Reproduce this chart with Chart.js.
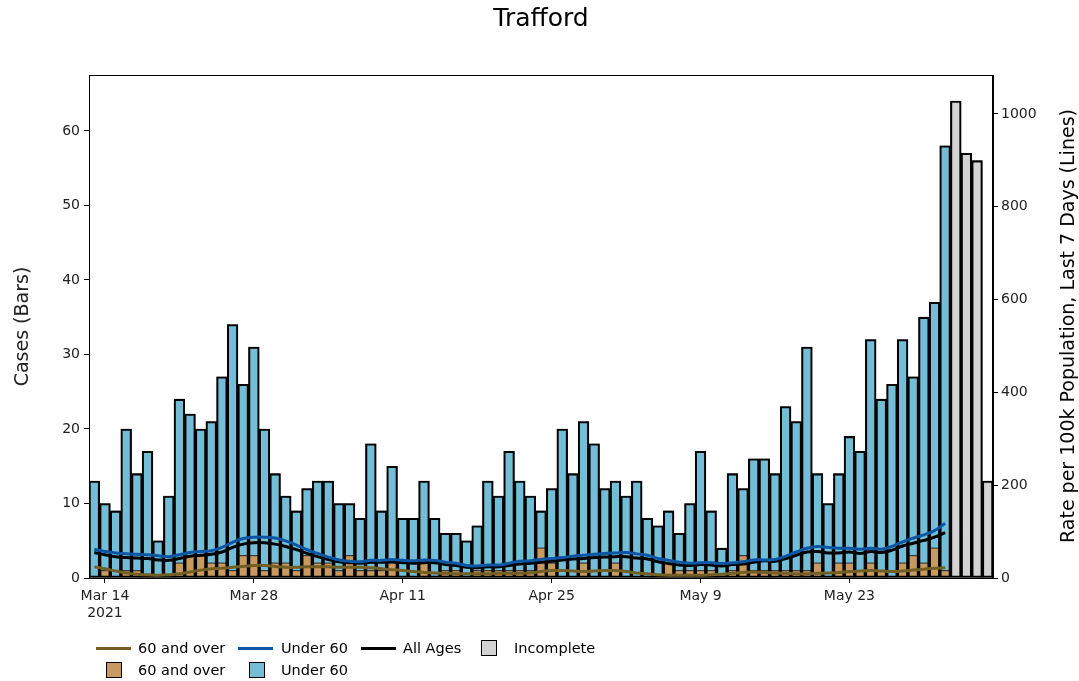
<!DOCTYPE html>
<html lang="en">
<head>
<meta charset="UTF-8">
<title>Trafford</title>
<script src="https://cdn.jsdelivr.net/npm/chart.js@4.4.1/dist/chart.umd.min.js"></script>
<style>
  body { margin: 0; background: #fff; font-family: "DejaVu Sans", sans-serif; color: #000; }
  #wrap { position: relative; width: 1079px; height: 681px; }
  #title { position: absolute; left: 0; width: 1082px; top: 3px; text-align: center; font-size: 25px; }
  #ylab2 { position: absolute; left: 1067px; top: 326px; font-size: 19px; white-space: nowrap;
           transform: translate(-50%, -50%) rotate(-90deg); }
  .lg { position: absolute; font-size: 14.5px; line-height: 18px; white-space: nowrap; }
  .ln { position: absolute; height: 3px; width: 35px; }
  .bx { position: absolute; width: 14px; height: 14px; border: 1.5px solid #000; }
</style>
</head>
<body>
<div id="wrap">
  <canvas id="chart" width="1079" height="681"></canvas>
  <div id="title">Trafford</div>
  <div id="ylab2">Rate per 100k Population, Last 7 Days (Lines)</div>

  <!-- legend, row 1 -->
  <div class="ln" style="left:96px; top:647px; background:#735f23"></div>
  <div class="lg" style="left:138px; top:639px">60 and over</div>
  <div class="ln" style="left:238px; top:647px; background:#0b56a4"></div>
  <div class="lg" style="left:281px; top:639px">Under 60</div>
  <div class="ln" style="left:361px; top:647px; background:#000"></div>
  <div class="lg" style="left:403px; top:639px">All Ages</div>
  <div class="bx" style="left:481px; top:640px; background:#d3d3d3"></div>
  <div class="lg" style="left:514px; top:639px">Incomplete</div>
  <!-- legend, row 2 -->
  <div class="bx" style="left:106px; top:662px; background:#c99a5f"></div>
  <div class="lg" style="left:138px; top:661px">60 and over</div>
  <div class="bx" style="left:249px; top:662px; background:#73bed6"></div>
  <div class="lg" style="left:281px; top:661px">Under 60</div>
</div>

<script>
  // days from 13 Mar 2021 to 5 Jun 2021
  const months = ['Jan','Feb','Mar','Apr','May','Jun'];
  const labels = [];
  for (let d = new Date(Date.UTC(2021, 2, 13)); d <= new Date(Date.UTC(2021, 5, 5)); d.setUTCDate(d.getUTCDate() + 1)) {
    labels.push(months[d.getUTCMonth()] + ' ' + d.getUTCDate());
  }
  const tickDates = ['Mar 14', 'Mar 28', 'Apr 11', 'Apr 25', 'May 9', 'May 23'];

  // daily cases (bars)
  const under60 = [13,9,9,19,13,17,5,11,22,19,17,19,25,33,23,28,19,12,9,
    8,9,11,11,9,7,7,17,8,13,8,8,11,8,5,5,5,6,12,10,16,12,10,5,10,20,14,19,18,12,
    11,11,13,8,7,7,5,9,16,8,4,13,9,15,15,13,22,20,30,12,10,12,17,16,30,23,26,30,24,33,33,
    57, null, null, null, null];
  const over60 = [0,1,0,1,1,0,0,0,2,3,3,2,2,1,3,3,1,2,2,
    1,3,2,2,1,3,1,1,1,2,0,0,2,0,1,1,0,1,1,1,1,1,1,4,2,0,0,2,0,0,
    2,0,0,0,0,2,1,1,1,1,0,1,3,1,1,1,1,1,1,2,0,2,2,1,2,1,0,2,3,2,4,
    1, null, null, null, null];
  const incomplete = Array(81).fill(null).concat([64, 57, 56, 13]);

  // rate per 100k, last 7 days (lines)
  const rateOver60 = [24,20,15,11,8,7,6,7,9,13,17,20,21,23,25,27,27,25,23,
    23,24,24,24,23,23,23,22,20,18,16,14,12,11,10,9,9,9,9,10,10,10,11,14,16,16,15,14,15,16,
    16,14,11,9,7,6,6,6,6,7,8,10,12,13,12,11,10,9,9,10,11,12,14,15,16,15,14,15,17,19,21,
    22, null, null, null, null];
  const rateUnder60 = [62,57,54,52,51,50,48,46,50,55,57,59,66,77,85,88,88,86,80,
    71,61,53,45,39,36,35,38,38,40,38,37,39,38,34,32,27,26,28,28,32,36,37,40,42,44,47,49,51,53,
    54,55,52,49,42,38,34,32,33,33,31,33,35,39,39,40,47,56,64,68,66,64,64,62,64,62,68,78,86,93,102,
    118, null, null, null, null];
  const rateAll = [55,50,46,44,43,42,39,38,42,47,49,51,56,66,73,76,76,73,68,
    61,53,46,40,35,33,32,34,34,35,33,32,33,33,29,27,23,22,24,24,27,30,32,34,36,39,41,42,44,45,
    46,46,43,41,35,31,28,27,29,28,26,29,30,34,37,36,42,49,56,57,54,54,56,53,57,55,60,69,75,81,88,
    98, null, null, null, null];

  const totals = labels.map((_, i) => (under60[i] || 0) + (over60[i] || 0) + (incomplete[i] || 0));

  const font = { family: 'DejaVu Sans', size: 14 };
  const barCommon = { yAxisID: 'y', stack: 'cases', barPercentage: 1, categoryPercentage: 1,
                      borderWidth: 1, borderColor: 'rgba(40,40,40,0.85)', borderSkipped: false, order: 3 };
  const lineCommon = { type: 'line', yAxisID: 'y2', pointRadius: 0, borderWidth: 3, tension: 0.4, fill: false, order: 0 };

  // frame around the plot area
  const frame = {
    id: 'frame',
    afterDraw(chart) {
      const a = chart.chartArea, ctx = chart.ctx;
      ctx.save();
      ctx.strokeStyle = '#000';
      ctx.lineWidth = 1;
      ctx.strokeRect(a.left + 0.5, a.top + 0.5, a.right - a.left - 1, a.bottom - a.top);
      ctx.restore();
    }
  };

  new Chart(document.getElementById('chart'), {
    type: 'bar',
    data: {
      labels: labels,
      datasets: [
        Object.assign({ label: '60 and over', data: over60, backgroundColor: '#c99a5f' }, barCommon),
        Object.assign({ label: 'Under 60', data: under60, backgroundColor: '#73bed6' }, barCommon),
        Object.assign({ label: 'Incomplete', data: incomplete, backgroundColor: '#d3d3d3' }, barCommon),
        { label: 'All ages outline', data: totals, yAxisID: 'y', stack: 'outline', grouped: false,
          barPercentage: 1, categoryPercentage: 1, backgroundColor: 'rgba(0,0,0,0)',
          borderColor: '#000', borderWidth: 1.4, borderSkipped: false, order: 2 },
        Object.assign({ label: '60 and over', data: rateOver60, borderColor: '#735f23' }, lineCommon),
        Object.assign({ label: 'Under 60', data: rateUnder60, borderColor: '#0b56a4' }, lineCommon),
        Object.assign({ label: 'All Ages', data: rateAll, borderColor: '#000' }, lineCommon)
      ]
    },
    options: {
      responsive: false,
      animation: false,
      devicePixelRatio: 1,
      layout: { padding: { top: 75, bottom: 58, left: 0, right: 0 } },
      plugins: { legend: { display: false }, title: { display: false }, tooltip: { enabled: false } },
      scales: {
        x: {
          stacked: true,
          offset: true,
          grid: { offset: false, drawOnChartArea: false, drawTicks: true, tickLength: 5, lineWidth: 1,
                  color: ctx => tickDates.includes(labels[ctx.index]) ? '#000' : 'rgba(0,0,0,0)' },
          border: { display: true, color: '#000' },
          ticks: {
            autoSkip: false, maxRotation: 0, padding: 5, color: '#222', font: font,
            callback: (v, i) => {
              const l = labels[i];
              if (!tickDates.includes(l)) return '';
              return l === 'Mar 14' ? ['Mar 14', '2021'] : l;
            }
          },
          afterFit: s => { s.height = 45; }
        },
        y: {
          position: 'left',
          stacked: true,
          min: 0, max: 67.5,
          grid: { drawOnChartArea: false, tickLength: 5, color: '#000' },
          border: { display: true, color: '#000' },
          ticks: { stepSize: 10, includeBounds: false, padding: 4, color: '#222', font: font },
          title: { display: true, text: 'Cases (Bars)', color: '#222',
                   font: { family: 'DejaVu Sans', size: 19 }, padding: { top: 12, bottom: 0 } },
          afterFit: s => { s.width = 89; }
        },
        y2: {
          position: 'right',
          min: 0, max: 1084,
          grid: { drawOnChartArea: false, tickLength: 5, color: '#000' },
          border: { display: true, color: '#000' },
          ticks: { stepSize: 200, includeBounds: false, padding: 3, color: '#222', font: font,
                   callback: v => String(v) },
          afterFit: s => { s.width = 86; }
        }
      }
    },
    plugins: [frame]
  });
</script>
</body>
</html>
